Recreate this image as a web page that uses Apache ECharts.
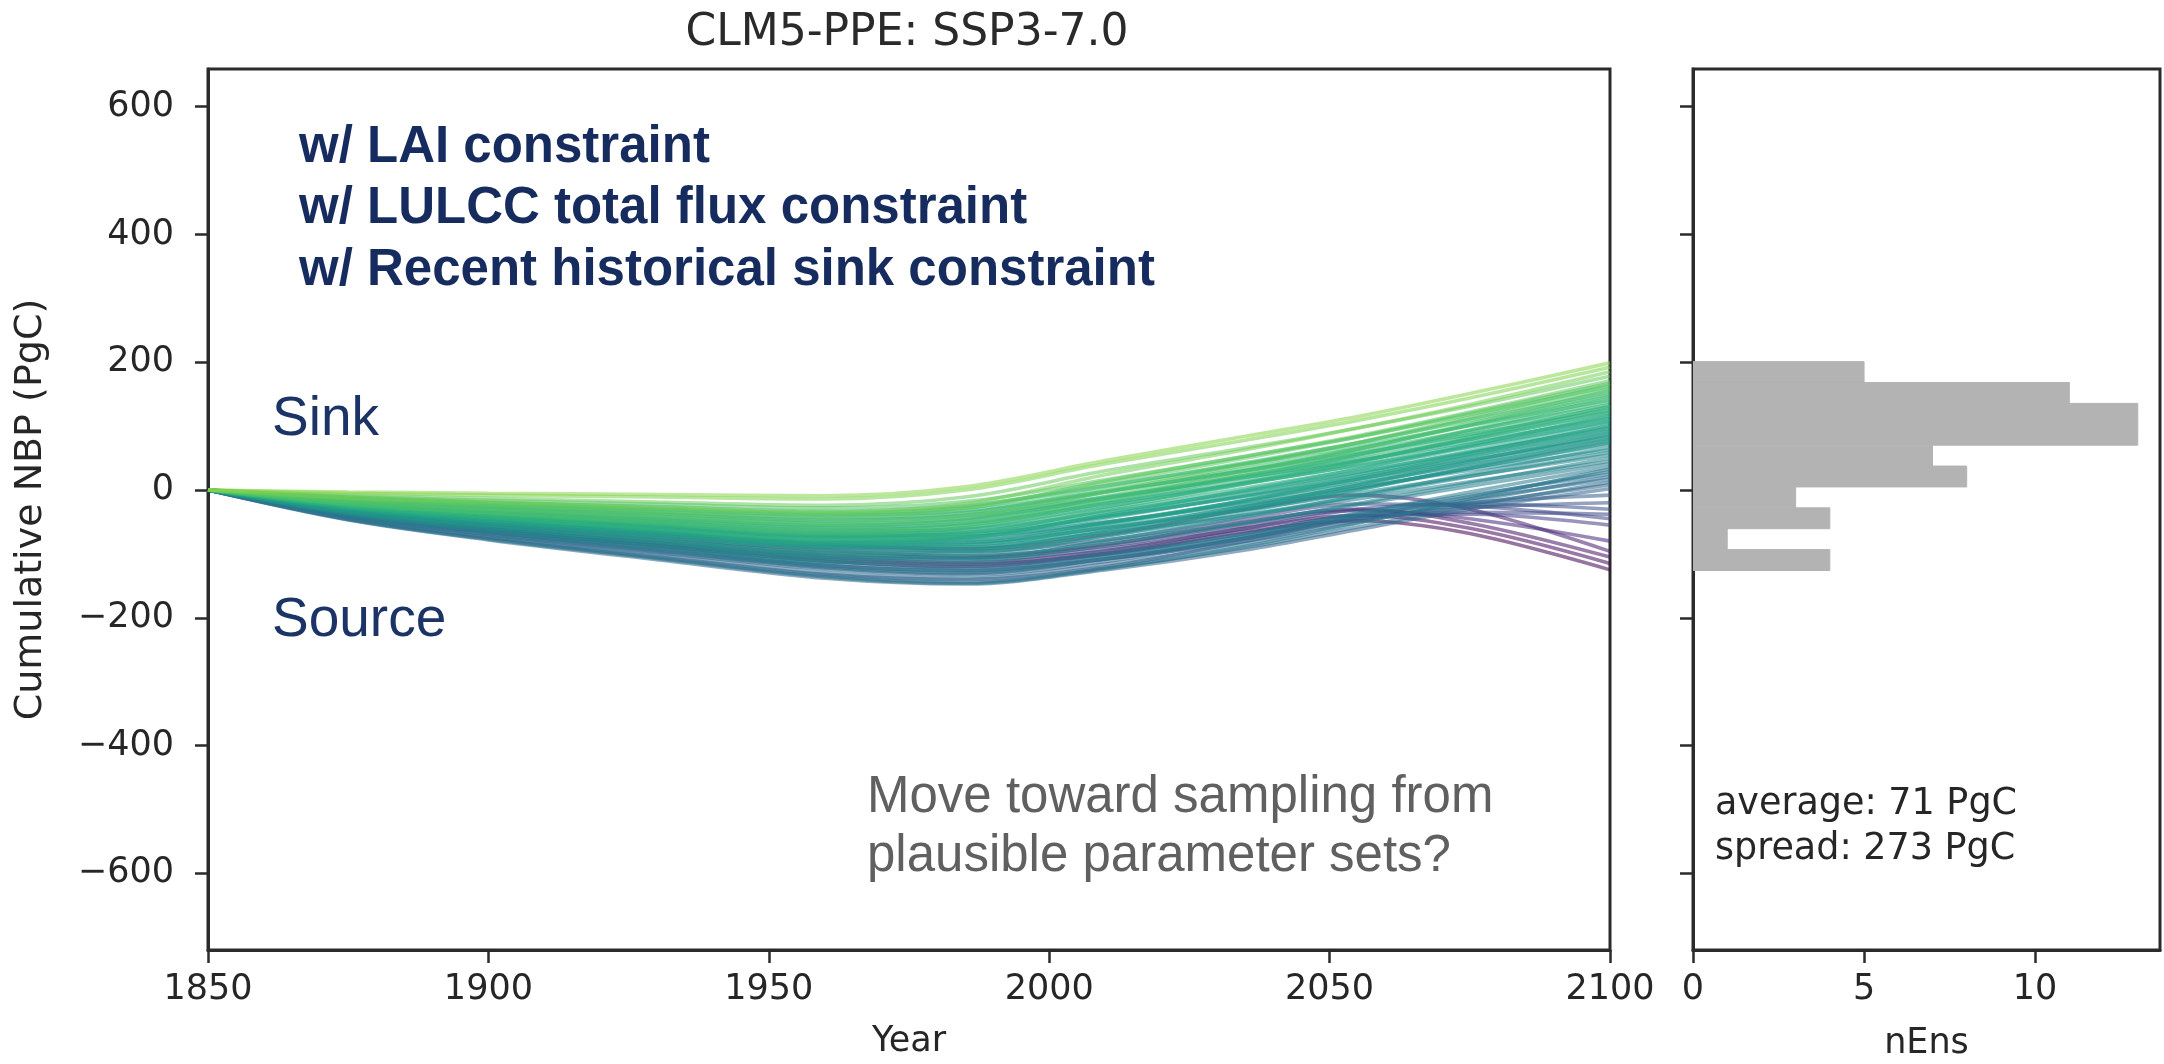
<!DOCTYPE html>
<html><head><meta charset="utf-8">
<script src="https://cdn.jsdelivr.net/npm/echarts@6/dist/echarts.min.js"></script>
<style>html,body{margin:0;padding:0;background:#fff}#c{width:2164px;height:1064px}</style>
</head><body><div id="c"></div>
<script>
// ---------------- data ----------------
const years = [1850, 1875, 1900, 1930, 1960, 1985, 2010, 2035, 2055, 2075, 2100];

// ensemble members (cumulative NBP, PgC), grouped by their 2100 value
const runsPurple = [
  [0,-38,-63,-87,-111,-120,-100,-65,-48,-68,-125],
  [0,-36,-59,-83,-105,-114,-95,-60,-40,-60,-115],
  [0,-32,-53,-74,-94,-103,-85,-50,-30,-52,-105],
  [0,-29,-48,-67,-85,-92,-70,-30,-8,-30,-96],
  [0,-34,-56,-78,-99,-106,-88,-55,-32,-45,-80],
  [0,-37,-61,-85,-108,-116,-100,-68,-40,-38,-55],
  [0,-30,-50,-70,-89,-96,-78,-45,-22,-25,-45],
  [0,-40,-66,-92,-118,-126,-108,-75,-45,-35,-38],
  [0,-35,-57,-80,-102,-109,-92,-60,-30,-22,-30]
];
const runsLowMid = [
  [0,-45,-74,-104,-132,-140,-120,-80,-45,-28,-20],
  [0,-42,-70,-98,-124,-133,-112,-75,-40,-20,-8],
  [0,-47,-78,-109,-138,-147,-125,-94,-62,-30,2],
  [0,-41,-68,-95,-120,-129,-108,-80,-48,-22,8],
  [0,-46,-76,-106,-134,-144,-122,-90,-58,-25,12],
  [0,-39,-65,-90,-115,-123,-103,-73,-42,-14,17],
  [0,-44,-73,-101,-129,-138,-116,-84,-51,-18,21],
  [0,-38,-63,-87,-111,-119,-98,-68,-36,-8,25],
  [0,-42,-69,-96,-122,-131,-108,-76,-42,-10,29],
  [0,-46,-77,-107,-136,-146,-123,-88,-52,-14,33],
  [0,-40,-66,-93,-118,-126,-104,-71,-37,-3,36]
];
const runsMid = [
  [0,-36,-59,-83,-105,-106,-81,-51,-23,6,41],
  [0,-30,-50,-70,-89,-89,-67,-39,-14,13,45],
  [0,-38,-64,-89,-113,-113,-86,-52,-21,11,50],
  [0,-28,-47,-65,-83,-82,-59,-31,-5,22,55],
  [0,-34,-56,-78,-99,-98,-72,-39,-10,21,59],
  [0,-25,-41,-58,-73,-72,-50,-22,4,31,63],
  [0,-37,-61,-85,-108,-108,-79,-42,-9,25,67],
  [0,-29,-49,-68,-86,-85,-59,-26,3,34,72],
  [0,-32,-53,-74,-94,-93,-65,-30,1,34,74],
  [0,-27,-44,-61,-78,-77,-51,-19,10,40,77],
  [0,-35,-58,-81,-103,-102,-72,-34,0,36,79],
  [0,-23,-38,-53,-68,-66,-41,-10,17,47,82],
  [0,-31,-51,-72,-91,-90,-61,-25,8,42,84],
  [0,-28,-46,-64,-81,-79,-51,-17,14,47,87],
  [0,-33,-55,-77,-98,-96,-65,-27,8,45,89],
  [0,-24,-40,-56,-71,-69,-42,-9,21,53,92],
  [0,-29,-48,-67,-85,-83,-53,-16,17,52,94],
  [0,-22,-36,-50,-64,-61,-35,-2,28,59,97],
  [0,-26,-42,-59,-75,-73,-44,-8,24,58,99],
  [0,-30,-50,-70,-88,-86,-55,-16,19,56,101]
];
const runsHigh = [
  [0,-27,-45,-63,-80,-74,-39,-3,27,61,105],
  [0,-20,-33,-46,-58,-52,-21,11,38,68,107],
  [0,-25,-41,-58,-73,-67,-33,3,33,67,110],
  [0,-16,-27,-37,-47,-40,-11,20,46,75,112],
  [0,-22,-37,-52,-66,-59,-26,10,39,72,115],
  [0,-28,-47,-65,-83,-76,-39,0,33,70,117],
  [0,-18,-29,-41,-52,-45,-13,20,48,80,120],
  [0,-21,-35,-49,-62,-55,-21,15,45,79,122],
  [0,-13,-22,-31,-39,-32,-2,30,57,87,125],
  [0,-24,-40,-56,-71,-63,-27,12,44,81,127],
  [0,-19,-31,-43,-55,-47,-13,23,53,87,130],
  [0,-26,-43,-61,-77,-69,-31,10,44,83,132],
  [0,-15,-24,-34,-43,-35,-3,31,60,93,134],
  [0,-20,-34,-47,-60,-52,-16,23,55,92,138],
  [0,-11,-19,-26,-33,-24,7,41,69,101,141],
  [0,-23,-38,-53,-68,-59,-20,21,55,94,144],
  [0,-17,-28,-38,-49,-40,-4,34,65,101,147],
  [0,-19,-32,-44,-56,-47,-10,30,64,102,150],
  [0,-13,-21,-30,-38,-28,6,43,74,109,153],
  [0,-22,-36,-50,-64,-55,-14,28,64,104,156],
  [0,-15,-25,-36,-45,-36,2,41,74,111,159],
  [0,-10,-16,-22,-28,-18,16,53,83,118,162],
  [0,-18,-30,-41,-53,-43,-3,39,74,114,165],
  [0,-12,-20,-28,-36,-26,11,50,83,120,167]
];
const runsTop = [
  [0,-14,-23,-33,-41,-29,14,53,85,122,171],
  [0,-8,-13,-19,-24,-11,30,66,97,131,178],
  [0,-12,-19,-27,-34,-21,24,63,97,134,185],
  [0,-5,-8,-11,-14,0,41,78,109,144,192],
  [0,-3,-5,-7,-9,5,46,84,115,151,199]
];

// histogram of 2100 values
const histBinEdges = [-126, -93.3, -60.6, -27.9, 4.8, 37.5, 70.2, 102.9, 135.6, 168.3, 201];
const histCounts = [4, 1, 4, 3, 8, 7, 13, 13, 11, 5];

// ticks and texts
const xTicks = [1850, 1900, 1950, 2000, 2050, 2100];
const yTicks = [-600, -400, -200, 0, 200, 400, 600];
const histTicks = [0, 5, 10];
const titleText = 'CLM5-PPE: SSP3-7.0';
const constraintLines = ['w/ LAI constraint', 'w/ LULCC total flux constraint', 'w/ Recent historical sink constraint'];
const questionLines = ['Move toward sampling from', 'plausible parameter sets?'];
const statLines = ['average: 71 PgC', 'spread: 273 PgC'];

// ---------------- styling helpers ----------------
const VIR = ['#440154','#482475','#414487','#355f8d','#2a788e','#21918c','#22a884','#44bf70','#7ad151','#bddf26','#fde725'];
function hex2rgb(h){return [parseInt(h.slice(1,3),16),parseInt(h.slice(3,5),16),parseInt(h.slice(5,7),16)];}
function viridis(t){
  t = Math.max(0, Math.min(1, t));
  const p = t * (VIR.length - 1), i = Math.min(Math.floor(p), VIR.length - 2), f = p - i;
  const a = hex2rgb(VIR[i]), b = hex2rgb(VIR[i+1]);
  return 'rgb(' + a.map((v,k)=>Math.round(v + (b[k]-v)*f)).join(',') + ')';
}
const allRuns = [].concat(runsPurple, runsLowMid, runsMid, runsHigh, runsTop);
const finals = allRuns.map(r => r[r.length-1]);
const fMin = Math.min(...finals), fMax = Math.max(...finals);

const AX = '#2b2b2b', TXT = '#262626';
const tickFmt = v => (v < 0 ? '\u2212' + Math.abs(v) : String(v));

const lineSeries = allRuns.map(run => ({
  type: 'line', xAxisIndex: 0, yAxisIndex: 0,
  data: years.map((y, i) => [y, run[i]]),
  smooth: 0.35, showSymbol: false, silent: true, animation: false,
  lineStyle: { width: 3.6, opacity: 0.55, color: viridis((run[run.length-1] - fMin) / (fMax - fMin) * 0.82) },
  z: 2
}));

const histData = histCounts.map((n, i) => [histBinEdges[i], histBinEdges[i+1], n]);

const commonY = {
  type: 'value', min: -720, max: 659,
  splitLine: { show: false },
  axisLine: { show: true, lineStyle: { color: AX, width: 3 } },
  axisTick: { show: true, length: 13, inside: false, lineStyle: { color: AX, width: 2.5 }, customValues: yTicks }
};

const option = {
  backgroundColor: '#fff',
  animation: false,
  grid: [
    { left: 208, top: 69, width: 1402, height: 881, show: true, borderColor: AX, borderWidth: 3, backgroundColor: 'transparent', containLabel: false, outerBoundsMode: 'none' },
    { left: 1693, top: 69, width: 467, height: 881, show: true, borderColor: AX, borderWidth: 3, backgroundColor: 'transparent', containLabel: false, outerBoundsMode: 'none' }
  ],
  xAxis: [
    { gridIndex: 0, type: 'value', min: 1850, max: 2100, interval: 50,
      splitLine: { show: false },
      axisLine: { show: true, onZero: false, lineStyle: { color: AX, width: 3 } },
      axisTick: { show: true, length: 13, lineStyle: { color: AX, width: 2.5 }, customValues: xTicks },
      axisLabel: { fontFamily: 'DejaVu Sans', fontSize: 35, color: TXT, margin: 22, customValues: xTicks, formatter: v => String(v) },
      name: 'Year', nameLocation: 'middle', nameGap: 74, nameMoveOverlap: false,
      nameTextStyle: { fontFamily: 'DejaVu Sans', fontSize: 35, color: TXT } },
    { gridIndex: 1, type: 'value', min: 0, max: 13.65,
      splitLine: { show: false },
      axisLine: { show: true, onZero: false, lineStyle: { color: AX, width: 3 } },
      axisTick: { show: true, length: 13, lineStyle: { color: AX, width: 2.5 }, customValues: histTicks },
      axisLabel: { fontFamily: 'DejaVu Sans', fontSize: 35, color: TXT, margin: 22, customValues: histTicks, formatter: v => String(v) },
      name: 'nEns', nameLocation: 'middle', nameGap: 76, nameMoveOverlap: false,
      nameTextStyle: { fontFamily: 'DejaVu Sans', fontSize: 35, color: TXT } }
  ],
  yAxis: [
    Object.assign({}, commonY, { gridIndex: 0,
      axisLabel: { fontFamily: 'DejaVu Sans', fontSize: 35, color: TXT, margin: 34, customValues: yTicks, formatter: tickFmt },
      name: 'Cumulative NBP (PgC)', nameLocation: 'middle', nameRotate: 90, nameGap: 158, nameMoveOverlap: false,
      nameTextStyle: { fontFamily: 'DejaVu Sans', fontSize: 38, color: TXT } }),
    Object.assign({}, commonY, { gridIndex: 1, axisLabel: { show: false } })
  ],
  series: lineSeries.concat([{
    type: 'custom', xAxisIndex: 1, yAxisIndex: 1, silent: true, animation: false,
    data: histData, encode: { x: 2, y: [0, 1] }, clip: true, z: 2,
    renderItem: function (params, api) {
      const lo = api.value(0), hi = api.value(1), n = api.value(2);
      const a = api.coord([0, hi]), b = api.coord([n, lo]);
      return { type: 'rect', shape: { x: a[0], y: a[1], width: b[0] - a[0], height: b[1] - a[1] },
               style: { fill: '#b3b3b3', stroke: '#b3b3b3', lineWidth: 1 } };
    }
  }]),
  graphic: [
    { type: 'text', x: 907, y: 34, style: { text: titleText, font: '44px "DejaVu Sans"', fill: '#2a2a2a', textAlign: 'center', textVerticalAlign: 'middle' } },
    { type: 'text', x: 299, y: 148, style: { text: constraintLines[0], font: 'bold 51px "Liberation Sans"', fill: '#172c5e', textAlign: 'left', textVerticalAlign: 'middle' } },
    { type: 'text', x: 299, y: 209, style: { text: constraintLines[1], font: 'bold 51px "Liberation Sans"', fill: '#172c5e', textAlign: 'left', textVerticalAlign: 'middle' } },
    { type: 'text', x: 299, y: 271, style: { text: constraintLines[2], font: 'bold 51px "Liberation Sans"', fill: '#172c5e', textAlign: 'left', textVerticalAlign: 'middle' } },
    { type: 'text', x: 272, y: 420, style: { text: 'Sink', font: '55px "Liberation Sans"', fill: '#1c3366', textAlign: 'left', textVerticalAlign: 'middle' } },
    { type: 'text', x: 272, y: 621, style: { text: 'Source', font: '55px "Liberation Sans"', fill: '#1c3366', textAlign: 'left', textVerticalAlign: 'middle' } },
    { type: 'text', x: 867, y: 798, style: { text: questionLines[0], font: '51px "Liberation Sans"', fill: '#606060', textAlign: 'left', textVerticalAlign: 'middle' } },
    { type: 'text', x: 867, y: 857, style: { text: questionLines[1], font: '51px "Liberation Sans"', fill: '#606060', textAlign: 'left', textVerticalAlign: 'middle' } },
    { type: 'text', x: 1715, y: 805, style: { text: statLines[0], font: '36.5px "DejaVu Sans"', fill: TXT, textAlign: 'left', textVerticalAlign: 'middle' } },
    { type: 'text', x: 1715, y: 850, style: { text: statLines[1], font: '36.5px "DejaVu Sans"', fill: TXT, textAlign: 'left', textVerticalAlign: 'middle' } }
  ]
};

const chart = echarts.init(document.getElementById('c'), null, { renderer: 'canvas' });
chart.setOption(option);
</script>
</body></html>
